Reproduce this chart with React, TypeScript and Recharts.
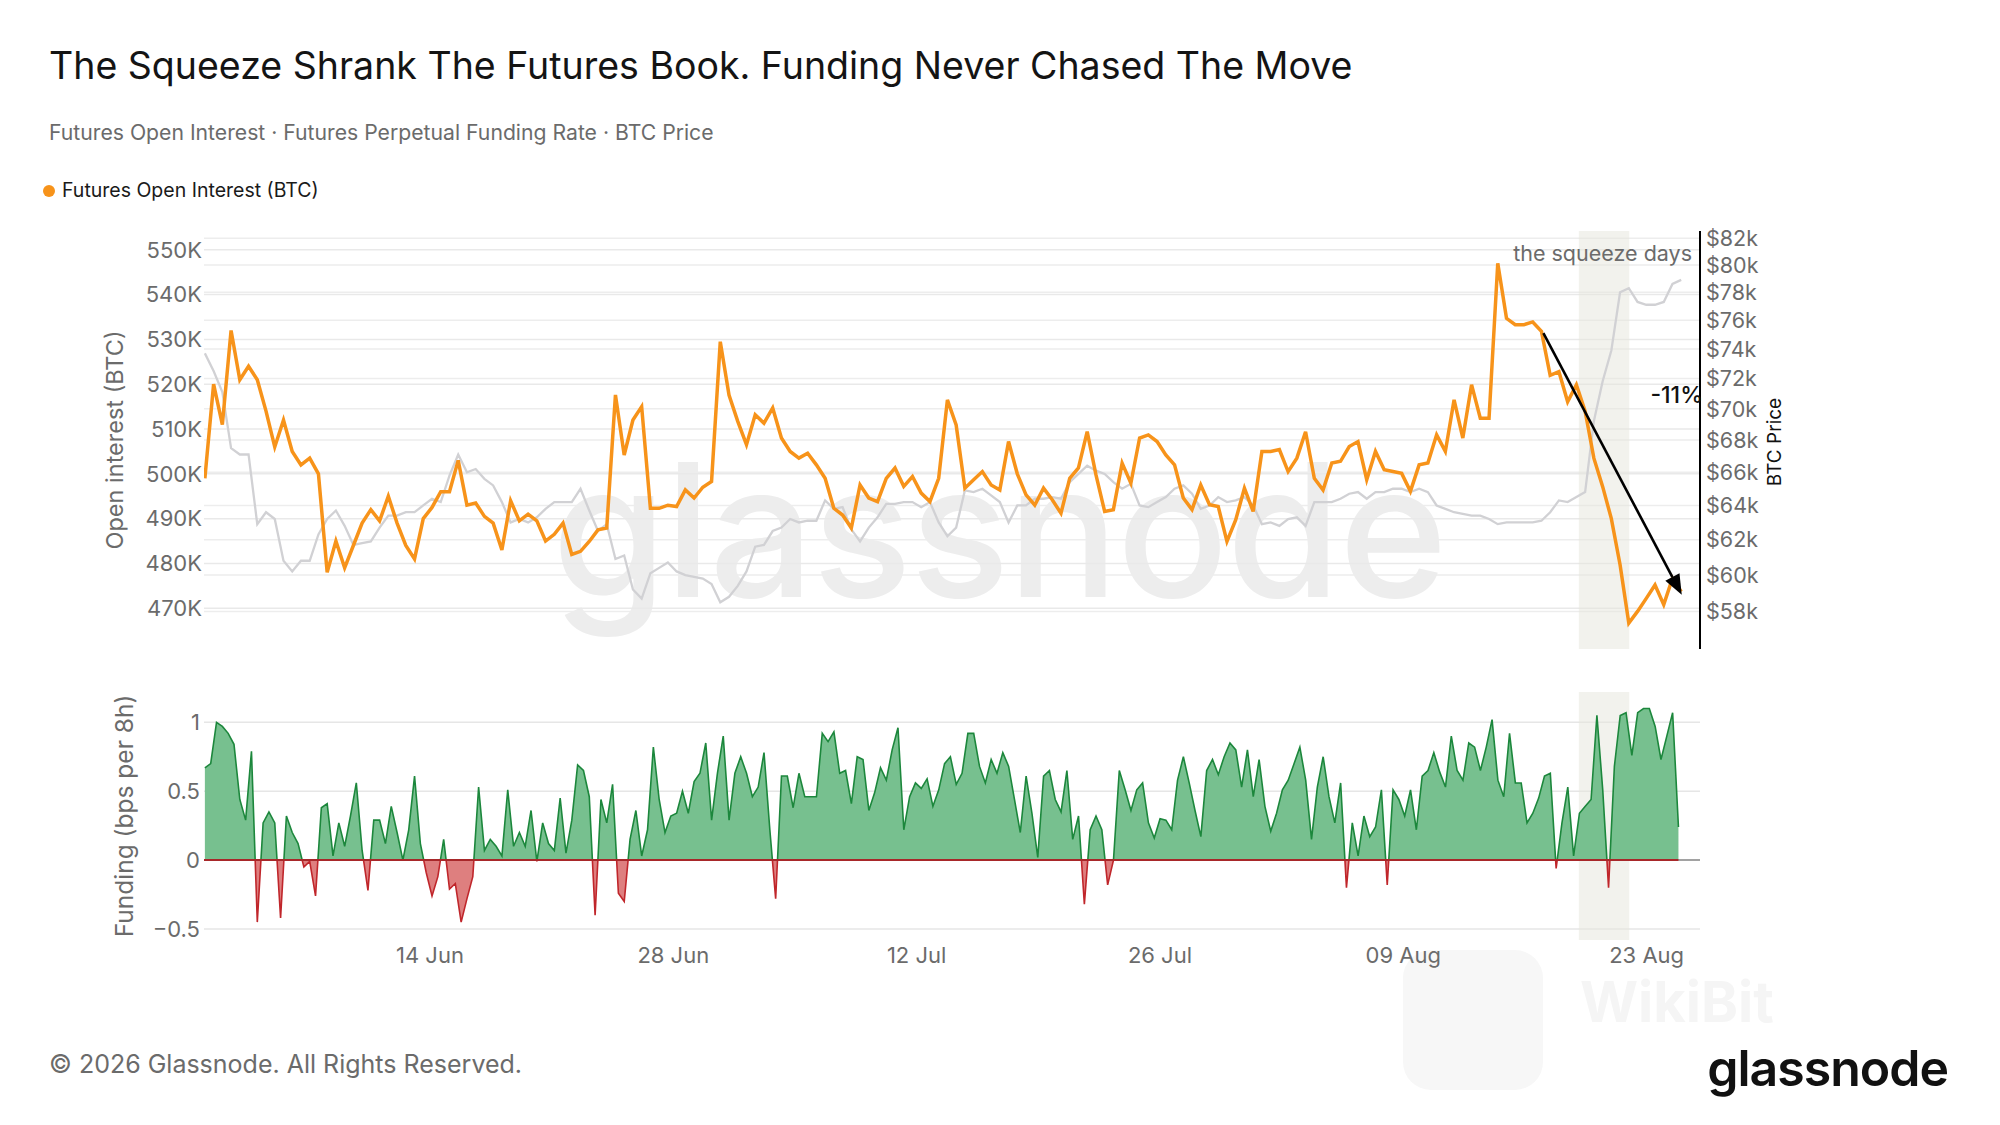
import {
  Area,
  AreaChart,
  CartesianGrid,
  ComposedChart,
  Line,
  ReferenceArea,
  ReferenceLine,
  XAxis,
  YAxis,
} from "recharts";

// Open interest (K BTC) and BTC price (k USD), read off the chart about every 12h.
// x is measured in days since 1 Jun 00:00.
const OI_START = 0.05;
const OI_STEP = 0.5026;
const oiK = [
  499, 520, 511, 532, 521, 524, 521, 514, 506, 512, 505, 502, 503.5, 500, 478, 485, 479, 484, 489, 492,
  489.5, 495, 489, 484, 481, 490, 492.5, 496, 496, 503, 493, 493.5, 490.5, 489, 483, 494, 489.5, 491, 489.5, 485,
  486.5, 489, 482, 482.7, 484.9, 487.5, 487.9, 517.6, 504.2, 512, 515, 492.3, 492.3, 493, 492.7, 496.4, 494.6, 497, 498.3, 529.5,
  517.6, 511.7, 506.5, 513.2, 511.3, 514.7, 508, 505, 503.5, 504.6, 502, 499, 492.3, 490.8, 487.9, 497.5, 494.6, 493.8, 499, 501.3,
  497.2, 499.4, 495.7, 493.8, 499, 516.5, 510.9, 496.8, 498.7, 500.5, 497.5, 496.4, 507.2, 500, 495.3, 493, 496.8, 494.2, 491.2, 499,
  501.3, 509.4, 499.8, 491.6, 492, 502.4, 497.9, 508, 508.7, 507.2, 504.2, 502, 494.6, 492, 497.5, 493.1, 492.7, 484.9, 489.7, 496.8,
  491.6, 505, 505, 505.4, 500.5, 503.5, 509.4, 499, 496.4, 502.4, 502.8, 506.1, 507.2, 498.7, 505, 500.9, 500.5, 500.1, 496.1, 502,
  502.4, 508.7, 505, 516.5, 508, 519.9, 512.4, 512.4, 547, 534.7, 533.3, 533.3, 533.9, 531.8, 522, 522.8, 516.1, 519.9, 514, 503.5,
  497.2, 490, 479.7, 466.7, 469.3, 472.2, 475.2, 470.8, 476.7, 473.7,
];
const btcPriceK = [
  73.7, 72.5, 71.1, 67.5, 67.1, 67.1, 62.9, 63.6, 63.2, 60.8, 60.2, 60.8, 60.8, 62.3, 63.2, 63.7, 62.8, 61.7, 61.8, 61.9,
  62.7, 63.4, 63.4, 63.6, 63.6, 64.0, 64.4, 64.2, 65.8, 67.1, 66.0, 66.2, 65.6, 65.2, 64.2, 63.0, 63.2, 63.0, 63.3, 63.8,
  64.2, 64.2, 64.2, 65.0, 63.7, 62.5, 62.9, 60.9, 61.1, 59.2, 58.7, 60.1, 60.4, 60.7, 60.2, 60.0, 59.9, 59.8, 59.5, 58.5,
  58.8, 59.4, 60.2, 61.6, 61.7, 62.5, 62.7, 63.2, 63.0, 63.1, 63.1, 64.3, 63.8, 63.9, 62.6, 61.9, 62.7, 63.3, 64.1, 64.1,
  64.2, 64.2, 63.9, 64.2, 63.0, 62.2, 62.7, 64.9, 64.8, 65.0, 64.6, 64.2, 63.0, 64.0, 64.0, 64.4, 64.4, 64.5, 64.4, 65.4,
  65.9, 66.4, 66.1, 65.9, 65.4, 65.0, 65.3, 64.0, 63.9, 64.2, 64.5, 65.0, 65.2, 64.7, 63.8, 64.0, 64.5, 64.2, 64.3, 64.5,
  64.0, 62.9, 63.0, 62.8, 63.2, 63.3, 62.8, 64.2, 64.2, 64.2, 64.4, 64.7, 64.8, 64.4, 64.8, 64.8, 65.0, 65.0, 64.8, 65.0,
  64.8, 64.0, 63.8, 63.6, 63.5, 63.4, 63.4, 63.2, 62.9, 63.0, 63.0, 63.0, 63.0, 63.1, 63.6, 64.3, 64.2, 64.5, 64.8, 69.2,
  71.8, 73.9, 78.0, 78.3, 77.3, 77.1, 77.1, 77.3, 78.6, 78.9,
];

const FUNDING_START = 0.05;
const FUNDING_STEP = 0.3351;
const fundingBps = [
  0.67, 0.7, 1.0, 0.97, 0.92, 0.84, 0.44, 0.29, 0.79, -0.45, 0.27, 0.35, 0.27, -0.42, 0.32, 0.2, 0.12, -0.05, -0.01, -0.26,
  0.38, 0.41, 0.03, 0.27, 0.1, 0.32, 0.56, 0.07, -0.22, 0.29, 0.29, 0.12, 0.39, 0.2, 0.0, 0.22, 0.61, 0.12, -0.09, -0.26,
  -0.12, 0.15, -0.21, -0.17, -0.45, -0.28, -0.12, 0.53, 0.07, 0.15, 0.1, 0.03, 0.51, 0.1, 0.2, 0.1, 0.36, -0.01, 0.27, 0.12,
  0.07, 0.45, 0.05, 0.29, 0.69, 0.65, 0.46, -0.4, 0.44, 0.27, 0.55, -0.24, -0.3, 0.15, 0.36, 0.03, 0.22, 0.82, 0.44, 0.2,
  0.32, 0.34, 0.5, 0.34, 0.57, 0.63, 0.85, 0.29, 0.63, 0.9, 0.29, 0.63, 0.75, 0.63, 0.46, 0.53, 0.78, 0.22, -0.28, 0.61,
  0.61, 0.38, 0.63, 0.46, 0.46, 0.46, 0.92, 0.86, 0.93, 0.63, 0.65, 0.41, 0.75, 0.73, 0.36, 0.49, 0.67, 0.58, 0.8, 0.96,
  0.22, 0.46, 0.56, 0.52, 0.59, 0.39, 0.51, 0.7, 0.75, 0.55, 0.63, 0.92, 0.92, 0.68, 0.56, 0.73, 0.63, 0.78, 0.68, 0.44,
  0.2, 0.61, 0.34, 0.02, 0.61, 0.65, 0.44, 0.35, 0.65, 0.15, 0.32, -0.32, 0.22, 0.32, 0.22, -0.18, 0.0, 0.65, 0.51, 0.36,
  0.51, 0.56, 0.27, 0.16, 0.3, 0.29, 0.22, 0.58, 0.75, 0.56, 0.36, 0.17, 0.65, 0.73, 0.62, 0.75, 0.85, 0.8, 0.53, 0.8,
  0.46, 0.73, 0.39, 0.21, 0.34, 0.51, 0.58, 0.7, 0.82, 0.58, 0.15, 0.53, 0.75, 0.46, 0.27, 0.56, -0.2, 0.27, 0.03, 0.32,
  0.17, 0.24, 0.51, -0.18, 0.51, 0.44, 0.32, 0.51, 0.22, 0.61, 0.65, 0.78, 0.64, 0.53, 0.9, 0.65, 0.58, 0.85, 0.82, 0.65,
  0.82, 1.02, 0.58, 0.46, 0.92, 0.56, 0.56, 0.27, 0.34, 0.45, 0.61, 0.63, -0.06, 0.27, 0.53, 0.03, 0.34, 0.39, 0.44, 1.05,
  0.51, -0.2, 0.68, 1.05, 1.07, 0.76, 1.07, 1.1, 1.1, 0.97, 0.73, 0.9, 1.07, 0.24,
];

const X_DOMAIN = [0, 86.07];
const dateTicks = [13, 27, 41, 55, 69, 83];
const dateLabels = ["14 Jun", "28 Jun", "12 Jul", "26 Jul", "09 Aug", "23 Aug"];
const oiTicks = [470, 480, 490, 500, 510, 520, 530, 540, 550];
const priceTicks = [58, 60, 62, 64, 66, 68, 70, 72, 74, 76, 78, 80, 82];
const fundingTicks = [-0.5, 0, 0.5, 1];
const squeezeDays = [79.1, 82.0];
const arrowFrom = { day: 77.06, oi: 531.4 };
const arrowTo = { day: 85.02, oi: 473 };

const FONT = "Inter, 'Noto Sans', sans-serif";
const GRAY = "#6b6b6b";
const ORANGE = "#f7931a";
const tickStyle = { fill: GRAY, fontSize: 22, fontFamily: FONT };
const rightTickStyle = { fill: GRAY, fontSize: 21.5, fontFamily: FONT };

const oiRows = oiK.map((v, i) => ({ day: OI_START + i * OI_STEP, oi: v, price: btcPriceK[i] }));
const fundingRows = fundingBps.map((v, i) => ({ day: FUNDING_START + i * FUNDING_STEP, f: v }));
const fMax = Math.max(...fundingBps);
const fMin = Math.min(...fundingBps);
const zeroOffset = fMax / (fMax - fMin);
const lastFundingDay = fundingRows[fundingRows.length - 1].day;

const dateLabel = (d: number) => dateLabels[dateTicks.indexOf(d)] ?? "";
const fundingLabel = (v: number) => (v < 0 ? `\u2212${Math.abs(v)}` : `${v}`);

function Arrow(p: any) {
  const { x1, y1, x2, y2 } = p;
  const a = Math.atan2(y2 - y1, x2 - x1);
  const len = 20;
  const half = 8;
  const bx = x2 - len * Math.cos(a);
  const by = y2 - len * Math.sin(a);
  const pts = [
    [x2, y2],
    [bx + half * Math.sin(a), by - half * Math.cos(a)],
    [bx - half * Math.sin(a), by + half * Math.cos(a)],
  ]
    .map((q) => q.join(","))
    .join(" ");
  return (
    <g>
      <line x1={x1} y1={y1} x2={bx} y2={by} stroke="#000" strokeWidth={2.6} />
      <polygon points={pts} fill="#000" />
    </g>
  );
}

function Rotated({ x, y, size, color, children }: any) {
  return (
    <div
      style={{
        position: "absolute",
        left: x,
        top: y,
        transform: "translate(-50%, -50%) rotate(-90deg)",
        whiteSpace: "nowrap",
        fontSize: size,
        color,
        lineHeight: 1,
      }}
    >
      {children}
    </div>
  );
}

export default function App() {
  return (
    <div
      style={{
        position: "absolute",
        left: 0,
        top: 0,
        width: 2000,
        height: 1125,
        background: "#fff",
        fontFamily: FONT,
        overflow: "hidden",
      }}
    >
      <div style={{ position: "absolute", left: 49, top: 47, fontSize: 37.5, lineHeight: 1, color: "#141414", fontWeight: 400 }}>
        The Squeeze Shrank The Futures Book. Funding Never Chased The Move
      </div>
      <div style={{ position: "absolute", left: 49, top: 122, fontSize: 21.2, lineHeight: 1, color: GRAY }}>
        Futures Open Interest · Futures Perpetual Funding Rate · BTC Price
      </div>
      <div style={{ position: "absolute", left: 43, top: 185, width: 12, height: 12, borderRadius: 6, background: ORANGE }} />
      <div style={{ position: "absolute", left: 62, top: 181, fontSize: 19.5, lineHeight: 1, color: "#1a1a1a" }}>
        Futures Open Interest (BTC)
      </div>

      {/* watermarks */}
      <div
        style={{
          position: "absolute",
          left: 552,
          top: 438,
          fontSize: 185,
          lineHeight: 1,
          fontWeight: 500,
          color: "#ededed",
          letterSpacing: -2,
        }}
      >
        glassnode
      </div>
      <div
        style={{
          position: "absolute",
          left: 1403,
          top: 950,
          width: 140,
          height: 140,
          borderRadius: 28,
          background: "#f7f7f7",
        }}
      />
      <div style={{ position: "absolute", left: 1580, top: 974, fontSize: 56, fontWeight: 700, lineHeight: 1, color: "#f5f5f5" }}>
        WikiBit
      </div>

      <Rotated x={115} y={440} size={23.5} color={GRAY}>
        Open interest (BTC)
      </Rotated>
      <Rotated x={1774} y={442} size={19} color="#111">
        BTC Price
      </Rotated>
      <Rotated x={124} y={816} size={24.5} color={GRAY}>
        Funding (bps per 8h)
      </Rotated>

      <div style={{ position: "absolute", top: 200, left: 0 }}>
        <ComposedChart width={2000} height={470} data={oiRows} margin={{ top: 31, right: 220, bottom: 21, left: 104 }}>
          <CartesianGrid yAxisId="oi" vertical={false} syncWithTicks stroke="#e9e9e9" strokeWidth={1.5} />
          <CartesianGrid yAxisId="price" vertical={false} syncWithTicks stroke="#ededed" strokeWidth={1.5} />
          <XAxis dataKey="day" type="number" domain={X_DOMAIN} hide allowDataOverflow />
          <YAxis
            yAxisId="oi"
            width={100}
            domain={[460.9, 554.2]}
            ticks={oiTicks}
            interval={0}
            allowDataOverflow
            axisLine={false}
            tickLine={false}
            tickSize={0}
            tickMargin={2}
            tick={tickStyle}
            tickFormatter={(v: number) => `${v}K`}
          />
          <YAxis
            yAxisId="price"
            orientation="right"
            width={80}
            scale="log"
            domain={[56.02, 82.56]}
            ticks={priceTicks}
            interval={0}
            allowDataOverflow
            axisLine={{ stroke: "#000", strokeWidth: 2 }}
            tickLine={false}
            tickSize={0}
            tickMargin={6}
            tick={rightTickStyle}
            tickFormatter={(v: number) => `$${v}k`}
          />
          <ReferenceArea
            yAxisId="oi"
            x1={squeezeDays[0]}
            x2={squeezeDays[1]}
            fill="#e6e6dc"
            fillOpacity={0.5}
            stroke="none"
          />
          <Line
            yAxisId="price"
            dataKey="price"
            type="linear"
            stroke="#d1d1d4"
            strokeWidth={2.3}
            dot={false}
            isAnimationActive={false}
          />
          <Line
            yAxisId="oi"
            dataKey="oi"
            type="linear"
            stroke={ORANGE}
            strokeWidth={3.5}
            dot={false}
            isAnimationActive={false}
          />
          <ReferenceLine
            yAxisId="oi"
            segment={[
              { x: arrowFrom.day, y: arrowFrom.oi },
              { x: arrowTo.day, y: arrowTo.oi },
            ]}
            shape={Arrow}
          />
        </ComposedChart>
      </div>

      <div style={{ position: "absolute", left: 1392, width: 300, top: 243, textAlign: "right", fontSize: 21.5, lineHeight: 1, color: GRAY }}>
        the squeeze days
      </div>
      <div style={{ position: "absolute", left: 1600, width: 103, top: 384, textAlign: "right", fontSize: 23, lineHeight: 1, color: "#111", fontWeight: 500 }}>
        -11%
      </div>

      <div style={{ position: "absolute", top: 660, left: 0 }}>
        <AreaChart width={2000} height={330} data={fundingRows} margin={{ top: 32, right: 300, bottom: 20, left: 104 }}>
          <defs>
            <linearGradient id="fundFill" x1="0" y1="0" x2="0" y2="1">
              <stop offset={0} stopColor="#77c08f" />
              <stop offset={zeroOffset} stopColor="#77c08f" />
              <stop offset={zeroOffset} stopColor="#de7f7f" />
              <stop offset={1} stopColor="#de7f7f" />
            </linearGradient>
            <linearGradient id="fundStroke" x1="0" y1="0" x2="0" y2="1">
              <stop offset={0} stopColor="#1c873c" />
              <stop offset={zeroOffset} stopColor="#1c873c" />
              <stop offset={zeroOffset} stopColor="#c0262b" />
              <stop offset={1} stopColor="#c0262b" />
            </linearGradient>
          </defs>
          <CartesianGrid vertical={false} syncWithTicks stroke="#e6e6e6" strokeWidth={1.5} />
          <XAxis
            dataKey="day"
            type="number"
            domain={X_DOMAIN}
            ticks={dateTicks}
            interval={0}
            allowDataOverflow
            axisLine={false}
            tickLine={false}
            tickSize={0}
            tickMargin={7}
            height={30}
            tick={tickStyle}
            tickFormatter={dateLabel}
          />
          <YAxis
            width={100}
            domain={[-0.58, 1.22]}
            ticks={fundingTicks}
            interval={0}
            allowDataOverflow
            axisLine={false}
            tickLine={false}
            tickSize={0}
            tickMargin={4}
            tick={tickStyle}
            tickFormatter={fundingLabel}
          />
          <ReferenceArea x1={squeezeDays[0]} x2={squeezeDays[1]} fill="#e6e6dc" fillOpacity={0.5} stroke="none" />
          <ReferenceLine y={0} stroke="#8a8a8a" strokeWidth={1.5} />
          <Area
            dataKey="f"
            type="linear"
            baseValue={0}
            stroke="url(#fundStroke)"
            strokeWidth={1.6}
            fill="url(#fundFill)"
            fillOpacity={1}
            dot={false}
            activeDot={false}
            isAnimationActive={false}
          />
          <ReferenceLine
            segment={[
              { x: 0, y: 0 },
              { x: lastFundingDay, y: 0 },
            ]}
            stroke="#a8282a"
            strokeWidth={2}
          />
        </AreaChart>
      </div>

      <div style={{ position: "absolute", left: 49, top: 1052, fontSize: 25, lineHeight: 1, color: GRAY }}>
        © 2026 Glassnode. All Rights Reserved.
      </div>
      <div
        style={{
          position: "absolute",
          left: 1648,
          width: 300,
          top: 1043,
          textAlign: "right",
          fontSize: 50,
          lineHeight: 1,
          fontWeight: 600,
          color: "#111",
          letterSpacing: -1,
        }}
      >
        glassnode
      </div>
    </div>
  );
}
